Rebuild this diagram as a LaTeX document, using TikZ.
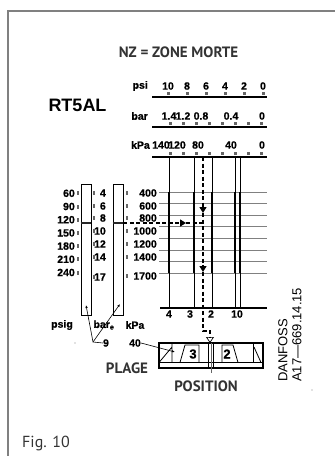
\documentclass[tikz,border=0pt]{standalone}
\usepackage{fontspec}
\setmainfont{Liberation Sans}
\newfontfamily\capfont{PT Sans}
\newfontfamily\heavyfont{Liberation Sans}[FakeBold=0.8]
\usetikzlibrary{positioning,arrows.meta}
\tikzset{scale num/.style={font=\heavyfont\bfseries\fontsize{10.5}{10.5}\selectfont,inner sep=0pt},
  cap text/.style={font=\capfont\bfseries\fontsize{15}{15}\selectfont,text=black!80,inner sep=0pt},
  tick box/.style={fill=black!60,minimum width=3pt,minimum height=3pt,inner sep=0pt},
  notch/.style={fill=black!60,minimum width=2pt,minimum height=4pt,inner sep=0pt},
  grid line/.style={black!50,line width=0.5pt},
  heavy/.style={line width=2.6pt},
  guide/.style={line width=1.3pt,dash pattern=on 4pt off 2.5pt},
  gauge bar/.style={draw,line width=0.7pt,minimum width=10pt,minimum height=131pt,inner sep=0pt},
  leader/.style={line width=0.6pt},
}

\begin{document}
\begin{tikzpicture}[x=1pt,y=-1pt]
  \useasboundingbox (0,0) rectangle (335,456);
  \draw[black!50,line width=1.2pt] (8,456) -- (8,11) -- (335,11);

  \node[cap text] (title) at (178.5,52) {NZ = ZONE MORTE};
  \node[font=\bfseries\fontsize{18}{18}\selectfont,inner sep=0pt] (model) at (77.5,105.5) {RT5AL};

  % scales on top
  \node[scale num,anchor=east] (psi) at (148,86) {psi};
  \node[scale num,anchor=east] (bar) at (148,116) {bar};
  \node[scale num,anchor=east] (kpa) at (150,145) {kPa};
  \foreach \x/\v in {168/10,187/8,206/6,225/4,244/2,263/0}{
    \node[scale num] (psi\v) at (\x,86) {\v};
    \node[tick box] at (\x,93) {};
  }
  \foreach \x/\v in {169/1.4,183/1.2,201/0.8,231/0.4,262/0}
    \node[scale num] (bar\v) at (\x,116) {\v};
  \foreach \x/\v in {161/140,177/120,198/80,231/40,262/0}
    \node[scale num] (kpa\v) at (\x,145) {\v};
  \foreach \k in {0,...,7}{
    \node[tick box] at ({170+13.14*\k},123) {};
    \node[tick box] at ({170+13.14*\k},153) {};
  }
  \draw[line width=1.3pt] (152,97) -- (267,97);
  \draw[line width=1.3pt] (152,127) -- (267,127);
  \draw[line width=1.3pt] (152,157) -- (267,157);

  % chart
  \foreach \k in {0,...,7}
    \draw[grid line] (159,{192+11.57*\k}) -- (267,{192+11.57*\k});
  \foreach \x in {169,194,212,235,240}{
    \draw[line width=0.6pt] (\x,157) -- (\x,308);
    \draw[heavy] (\x,192) -- (\x,273);
  }
  \draw[line width=1.6pt] (160,308) -- (267,308);
  \foreach \x/\v in {169/4,190/3,211/2,237/10}
    \node[scale num] (col\v) at (\x,314) {\v};

  % gauges
  \node[gauge bar] (psibar) at (86,249.5) {};
  \node[gauge bar] (barbar) at (118,249.5) {};
  \draw[heavy,black!85] (psibar.west |- 0,223) -- (psibar.east |- 0,223);
  \draw[heavy,black!85] (barbar.west |- 0,223) -- (barbar.east |- 0,223);
  \foreach \v [count=\i from 0] in {60,90,120,150,180,210,240}{
    \node[scale num,anchor=east] (p\v) at (75,{193.3+13.2*\i}) {\v};
    \node[notch] at (78,{193.3+13.2*\i}) {};
  }
  \foreach \v/\y in {4/193,6/206,8/218,10/231,12/244,14/257,17/277}{
    \node[scale num,anchor=east] (b\v) at (106,\y) {\v};
    \node[notch] at (94,\y) {};
  }
  \foreach \v/\y in {400/193,600/206,800/218,1000/231,1200/244,1400/257,1700/276}{
    \node[scale num,anchor=east] (k\v) at (157,\y) {\v};
    \node[notch] at (127,\y) {};
  }

  % reading path
  \coordinate (scaletop) at (203,157);
  \coordinate (mark1) at (203,213);
  \coordinate (mark2) at (203,272);
  \coordinate (bend1) at (203,331);
  \coordinate (bend2) at (210,331);
  \coordinate (seltop) at (210,343);
  \coordinate (hstart) at (barbar.east |- 0,223);
  \coordinate (hmark) at (186,223);
  \coordinate (hend) at (203,223);
  \draw[guide,-{Triangle[length=6pt,width=7pt]}] (scaletop) -- (mark1);
  \draw[guide,-{Triangle[length=6pt,width=7pt]}] (mark1) -- (mark2);
  \draw[guide,-{Triangle[open,length=6pt,width=8pt,line width=0.7pt]}] (mark2) -- (bend1) -- (bend2) -- (seltop);
  \draw[guide,-{Triangle[length=6pt,width=7pt]}] (hstart) -- (hmark);
  \draw[guide] (hmark) -- (hend);

  % bottom labels
  \node[scale num] (psig) at (62,325) {psig};
  \node[scale num] (bare) at (104,325) {bar\textsubscript{e}};
  \node[scale num] (kpab) at (135,325) {kPa};
  \node[scale num] (nine) at (106,343) {9};
  \node[scale num] (forty) at (135,343) {40};
  \coordinate (corner) at (93,342);
  \coordinate (psipt) at (86,305);
  \coordinate (barpt) at (120,304);
  \coordinate (plagept) at (175,352);
  \draw[leader,-{Latex[length=3pt,width=2.5pt]}] (nine.west) -- (corner) -- (psipt);
  \draw[leader,-{Latex[length=3pt,width=2.5pt]}] (corner) -- (barpt);
  \draw[leader,-{Latex[length=3pt,width=2.5pt]}] (forty.east) -- (plagept);
  \node[cap text] (plage) at (127,368) {PLAGE};
  \node[cap text] (position) at (206,386) {POSITION};

  % selector
  \node[draw,line width=1.1pt,minimum width=104pt,minimum height=25pt,inner sep=0pt] (selector) at (211,355.5) {};
  \draw[line width=0.8pt] (159,362.5) -- (263,362.5);
  \draw[line width=0.8pt] (172,343) -- (172,362.5) (159,362.5) -- (172,347);
  \draw[line width=0.8pt] (180,362.5) -- (185,345) -- (199,345) -- (199,362.5);
  \draw[line width=0.8pt] (222,362.5) -- (222,345) -- (233,345) -- (238,362.5);
  \draw[line width=0.8pt] (253.5,343) -- (253.5,362.5) (254,347) -- (261,362.5);
  \draw[line width=0.7pt] (208.5,343) -- (208.5,368) (213.5,343) -- (213.5,368);
  \draw[black!60,line width=0.5pt] (211,343) -- (211,373);
  \node[font=\heavyfont\bfseries\fontsize{13}{13}\selectfont,inner sep=0pt] (pos3) at (193,354) {3};
  \node[font=\heavyfont\bfseries\fontsize{13}{13}\selectfont,inner sep=0pt] (pos2) at (227,354) {2};

  \node[rotate=90,anchor=west,font=\fontsize{13}{13}\selectfont,inner sep=0pt] (maker) at (283,382) {DANFOSS};
  \node[rotate=90,anchor=west,font=\fontsize{13}{13}\selectfont,inner sep=0pt] (code) at (297,382) {A17—669.14.15};
  \fill[black!50] (75,343) circle (0.6) (312,390) circle (0.6);

  \node[anchor=west,font=\capfont\fontsize{16}{16}\selectfont,text=black!80,inner sep=0pt] (fig) at (22,443) {Fig. 10};
\end{tikzpicture}
\end{document}
